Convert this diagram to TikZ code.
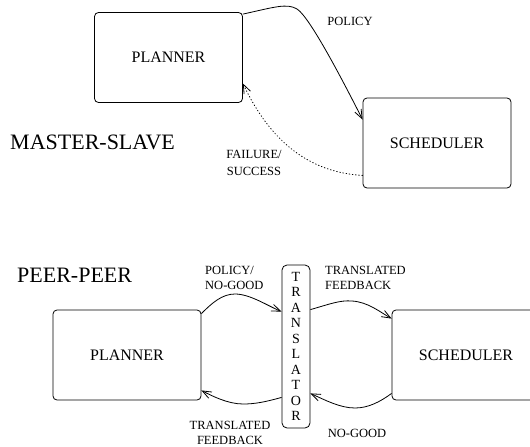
\documentclass[tikz,border=0pt]{standalone}
\usepackage{fontspec}
\setmainfont{Liberation Serif}
\usetikzlibrary{arrows.meta}
\begin{document}
\begin{tikzpicture}[x=1pt,y=-1pt,
  box/.style={draw, rounded corners=4pt, line width=0.8pt, minimum width=148pt,
    minimum height=90pt, inner sep=0pt, font=\fontsize{16}{18}\selectfont},
  tag/.style={inner sep=0pt, font=\fontsize{12.5}{15}\selectfont},
  title/.style={inner sep=0pt, anchor=west, font=\fontsize{22}{24}\selectfont},
  link/.style={line width=0.8pt, -{Straight Barb[length=9pt,width=7pt]}},
  reply/.style={link, dash pattern=on 0.8pt off 2.4pt, line cap=round}]
\useasboundingbox (0,0) rectangle (530,447);
\clip (0,0) rectangle (530,447);

% ---- master-slave arrangement ----
\node[title] (ms) at (10,142) {MASTER-SLAVE};
\node[box] (tp) at (168.5,57.5) {PLANNER};
\node[box] (ts) at (437,143) {SCHEDULER};

\draw[link] ([yshift=-2pt]tp.north east)
  .. controls (275,7) and (287,3) .. (297,9)
  .. controls (310,17) and (345,85) .. ([yshift=-22pt]ts.north west);
\node[tag] (pol) at (350,21) {POLICY};

\draw[reply] ([yshift=13pt]ts.south west)
  .. controls (300,172) and (265,130) .. ([yshift=-26pt]tp.east);
\node[tag, align=center, font=\fontsize{12.5}{16.5}\selectfont] (fs) at (254,163) {FAILURE/\\SUCCESS};

% ---- peer-peer arrangement ----
\node[title] (pp) at (17,275) {PEER-PEER};
\node[box] (bp) at (127,355) {PLANNER};
\node[box] (bs) at (466,355) {SCHEDULER};
\node[draw, rounded corners=5pt, line width=0.8pt, minimum width=28pt,
  minimum height=163pt, inner sep=0pt, align=center,
  font=\fontsize{14}{15.5}\selectfont] (tr) at (296,346.5)
  {T\\R\\A\\N\\S\\L\\A\\T\\O\\R};

\draw[link] ([yshift=-4pt]bp.north east)
  .. controls (212,303) and (222,294) .. (235,294)
  .. controls (250,294) and (268,306) .. ([yshift=-47pt]tr.north west);
\node[tag, align=left, anchor=west] (png) at (205,277.5) {POLICY/\\NO-GOOD};

\draw[link] ([yshift=-45pt]tr.north east)
  .. controls (330,304) and (340,300) .. (352,301)
  .. controls (368,302) and (380,312) .. ([yshift=-9pt]bs.north west);
\node[tag, align=left, anchor=west] (tf1) at (325,277.5) {TRANSLATED\\FEEDBACK};

\draw[link] ([yshift=31pt]tr.south west)
  .. controls (265,402) and (255,404) .. (243,404)
  .. controls (228,404) and (212,396) .. ([yshift=10pt]bp.south east);
\node[tag, align=center] (tf2) at (230,432.5) {TRANSLATED\\FEEDBACK};

\draw[link] ([yshift=7pt]bs.south west)
  .. controls (380,402) and (368,408) .. (355,408)
  .. controls (340,408) and (325,400) .. ([yshift=35pt]tr.south east);
\node[tag] (ng) at (357,433) {NO-GOOD};
\end{tikzpicture}
\end{document}
